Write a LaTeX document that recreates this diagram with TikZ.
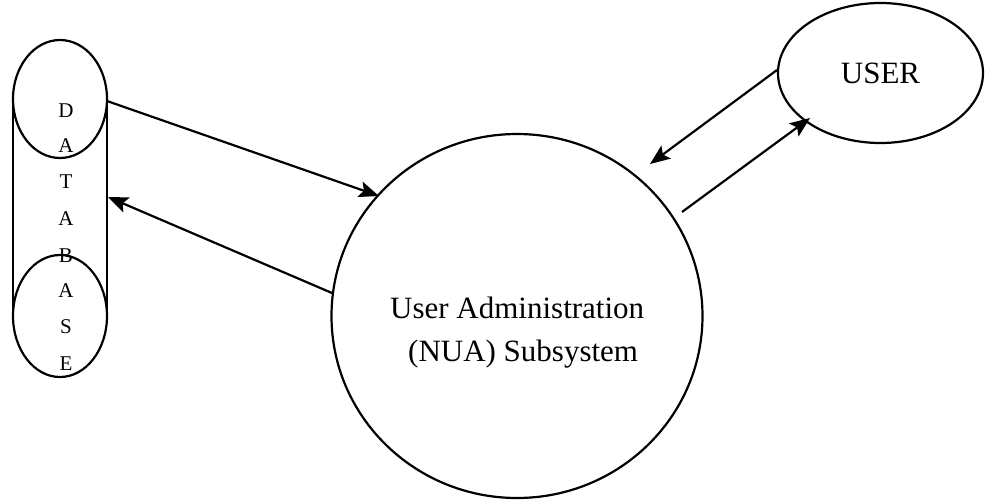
\documentclass[tikz,border=0pt]{standalone}
\usepackage{fontspec}
\setmainfont{Liberation Serif}
\usetikzlibrary{arrows.meta,shapes.geometric}
\begin{document}
\begin{tikzpicture}[x=1pt,y=-1pt,
  shp/.style={draw=black,line width=2.2pt},
  conn/.style={draw=black,line width=2.2pt,-{Stealth[length=20pt,width=16pt,inset=4pt]}},
  bigtxt/.style={font=\fontsize{31}{43}\selectfont,inner sep=0pt},
  dbletter/.style={font=\fontsize{21}{24}\selectfont,inner sep=0pt,anchor=base}]
\useasboundingbox (0,0) rectangle (985,499);
% database cylinder
\draw[shp] (13,99) -- (13,316);
\draw[shp] (107,99) -- (107,316);
\draw[shp] (60,99) ellipse [x radius=47, y radius=59];
\draw[shp] (60,316) ellipse [x radius=47, y radius=61];
\node[inner sep=0pt,minimum width=94pt,minimum height=337pt] (db) at (60,208.5) {};
\foreach \L/\yy [count=\i] in {D/117,A/152,T/188,A/225,B/262,A/297,S/333,E/370}
  \node[dbletter] (dbl\i) at (66,\yy) {\L};
% system circle
\node[shp,ellipse,inner sep=0pt,minimum width=371pt,minimum height=364pt] (sys) at (517,316) {};
\node[bigtxt,anchor=base west] (txt1) at (390,318) {User Administration};
\node[bigtxt,anchor=base west] (txt2) at (408,361) {(NUA) Subsystem};
% user
\node[shp,ellipse,inner sep=0pt,minimum width=205pt,minimum height=140pt,font=\fontsize{31}{37}\selectfont] (user) at (880.5,73) {USER};
% connector ends
\coordinate (dbout) at (107,101);
\coordinate (dbin) at (108,197);
\coordinate (sysin1) at (379,196);
\coordinate (sysout1) at (332,293);
\coordinate (sysin2) at (650,164);
\coordinate (sysout2) at (682,212);
\coordinate (userout) at (777,70);
\coordinate (userin) at (810,118);
\draw[conn] (dbout) -- (sysin1);
\draw[conn] (sysout1) -- (dbin);
\draw[conn] (userout) -- (sysin2);
\draw[conn] (sysout2) -- (userin);
\end{tikzpicture}
\end{document}
